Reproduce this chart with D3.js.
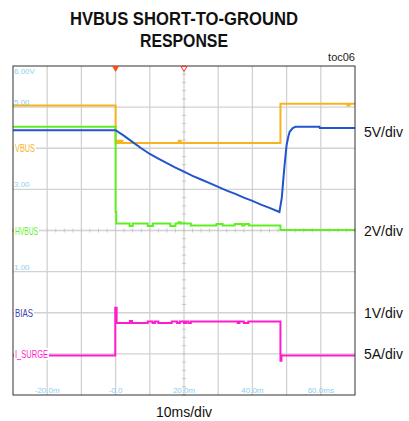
<!DOCTYPE html>
<html><head><meta charset="utf-8">
<script src="https://cdn.jsdelivr.net/npm/d3@7"></script>
<style>html,body{margin:0;padding:0;background:#fff;}svg{display:block;}</style>
</head><body>
<script>
// ---- data (time in ms, values in screen divisions from bottom) ----
const xTickValues = [-20, 0, 20, 40, 60];
const xTickLabels = ["-20.0m", "-0.0", "20.0m", "40.0m", "60.0ms"];
const yTickDivs = [8, 7, 5, 3];
const yTickLabels = ["6.00V", "5.00", "3.00", "1.00"];
const channelNames = ["VBUS", "HVBUS", "BIAS", "I_SURGE"];
const channelDivs = [6, 4, 2, 1];
const scaleLabels = ["5V/div", "2V/div", "1V/div", "5A/div"];
const scaleDivs = [6.4, 4, 2, 1];

// VBUS (orange), step data
const vbusT = [-30, 0, 0.3, 0.9, 1.4, 2.0, 2.6, 18.5, 19.0, 48.2, 67.8, 68.4, 70];
const vbusV = [7.04, 6.13, 6.18, 6.13, 6.18, 6.13, 6.13, 6.18, 6.13, 7.08, 7.04, 7.08, 7.08];
// Blue trace (VOUT), linear
const blueT = [-30, 0, 2.5, 5, 7.5, 10, 12.5, 15, 17.5, 20, 22.5, 25, 27.5, 30, 32.5, 35, 37.5, 40, 42.5, 45, 47.9, 48.6, 49.3, 50.0, 50.5, 50.9, 51.8, 52.6, 59.6, 59.7, 70];
const blueV = [6.44, 6.44, 6.30, 6.15, 6.00, 5.86, 5.75, 5.64, 5.53, 5.43, 5.33, 5.24, 5.15, 5.06, 4.97, 4.89, 4.80, 4.72, 4.63, 4.55, 4.45, 4.80, 5.50, 6.08, 6.28, 6.40, 6.49, 6.52, 6.52, 6.49, 6.49];
// HVBUS (green), step data
const hvbusT = [-30, 0, 0.2, 4.1, 5.0, 9.4, 10.9, 16.0, 17.5, 18.4, 19.0, 22.0, 29.5, 31.3, 34.8, 37.0, 37.7, 39.0, 48.2, 70];
const hvbusV = [6.52, 4.45, 4.17, 4.11, 4.17, 4.11, 4.17, 4.11, 4.17, 4.20, 4.17, 4.12, 4.16, 4.12, 4.16, 4.12, 4.16, 4.12, 4.01, 4.01];
// I_SURGE (magenta), step data
const surgeT = [-30, -0.1, 0.3, 4.2, 4.8, 9.4, 10.8, 11.5, 12.5, 16.4, 18.0, 18.8, 20.0, 20.6, 21.3, 22.0, 35.7, 36.2, 37.5, 38.8, 48.2, 48.5, 70];
const surgeV = [0.96, 2.12, 1.75, 1.80, 1.75, 1.79, 1.75, 1.79, 1.75, 1.79, 1.75, 1.79, 1.75, 1.79, 1.75, 1.79, 1.75, 1.79, 1.75, 1.79, 0.83, 0.96, 0.96];

// ---- layout ----
const W = 409, H = 421;
const L = 13, R = 355, T = 66, B = 395;
const svg = d3.select("body").append("svg").attr("width", W).attr("height", H);
const x = d3.scaleLinear().domain([-30, 70]).range([L, R]);
const y = d3.scaleLinear().domain([0, 8]).range([B, T]);
const narrow = "'Liberation Sans Narrow','Arial Narrow','Liberation Sans',Arial,sans-serif";
const sans = "'Liberation Sans',Arial,sans-serif";

// title
svg.append("text").attr("x", 184).attr("y", 25).attr("text-anchor", "middle")
  .attr("font-family", narrow).attr("font-weight", "bold").attr("font-size", 18)
  .attr("textLength", 228).attr("lengthAdjust", "spacingAndGlyphs").attr("fill", "#111")
  .text("HVBUS SHORT-TO-GROUND");
svg.append("text").attr("x", 184).attr("y", 46.5).attr("text-anchor", "middle")
  .attr("font-family", narrow).attr("font-weight", "bold").attr("font-size", 18)
  .attr("textLength", 88).attr("lengthAdjust", "spacingAndGlyphs").attr("fill", "#111")
  .text("RESPONSE");
svg.append("text").attr("x", 355).attr("y", 61).attr("text-anchor", "end")
  .attr("font-family", sans).attr("font-size", 11).attr("fill", "#222").text("toc06");

// grid
const gridColor = "#d2d2d2";
const g = svg.append("g");
d3.range(-20, 70, 10).forEach(t => {
  g.append("line").attr("x1", x(t)).attr("x2", x(t)).attr("y1", T).attr("y2", B)
    .attr("stroke", gridColor).attr("stroke-width", 1.3);
});
d3.range(1, 8).forEach(d => {
  g.append("line").attr("x1", L).attr("x2", R).attr("y1", y(d)).attr("y2", y(d))
    .attr("stroke", gridColor).attr("stroke-width", 1.3);
});
// minor ticks on center axes
d3.range(-30, 70.01, 2.5).forEach(t => {
  g.append("line").attr("x1", x(t)).attr("x2", x(t)).attr("y1", y(4) - 2).attr("y2", y(4) + 2)
    .attr("stroke", "#c8c8c8").attr("stroke-width", 1);
});
d3.range(0, 8.01, 0.2).forEach(d => {
  g.append("line").attr("x1", x(20) - 2).attr("x2", x(20) + 2).attr("y1", y(d)).attr("y2", y(d))
    .attr("stroke", "#c8c8c8").attr("stroke-width", 1);
});

// traces
const lineLin = d3.line().x(d => x(d[0])).y(d => y(d[1]));
const lineStep = d3.line().x(d => x(d[0])).y(d => y(d[1])).curve(d3.curveStepAfter);
const traces = [
  {t: vbusT, v: vbusV, c: "#f7b21e", gen: lineStep},
  {t: hvbusT, v: hvbusV, c: "#5ef01e", gen: lineStep},
  {t: blueT, v: blueV, c: "#2255cc", gen: lineLin},
  {t: surgeT, v: surgeV, c: "#ff1ccc", gen: lineStep}
];
traces.forEach(s => {
  svg.append("path").datum(d3.zip(s.t, s.v)).attr("d", s.gen)
    .attr("fill", "none").attr("stroke", s.c).attr("stroke-width", 2)
    .attr("stroke-linejoin", "miter");
});

// border
svg.append("rect").attr("x", L).attr("y", T).attr("width", R - L).attr("height", B - T)
  .attr("fill", "none").attr("stroke", "#333").attr("stroke-width", 1);

// trigger markers
svg.append("path").attr("d", `M${x(0) - 3.5},${T} L${x(0) + 3.5},${T} L${x(0)},${T + 6} Z`)
  .attr("fill", "#ff4a10");
svg.append("path").attr("d", `M${x(20) - 3},${T + 0.5} L${x(20) + 3},${T + 0.5} L${x(20)},${T + 5.5} Z`)
  .attr("fill", "#fff").attr("stroke", "#ff3030").attr("stroke-width", 1);

// y value labels (light blue)
const tickBlue = "#8ccff0";
yTickDivs.forEach((d, i) => {
  const yy = d === 8 ? T + 7.5 : y(d) - 2;
  svg.append("text").attr("x", 14).attr("y", yy)
    .attr("font-family", narrow).attr("font-size", 8).attr("fill", tickBlue)
    .text(yTickLabels[i]);
});
// x labels
xTickValues.forEach((t, i) => {
  svg.append("text").attr("x", x(t)).attr("y", 393).attr("text-anchor", "middle")
    .attr("font-family", narrow).attr("font-size", 8).attr("fill", tickBlue)
    .text(xTickLabels[i]);
});

// channel labels with white background
const chColors = ["#f7b21e", "#5ef01e", "#3a3fb0", "#ff1ccc"];
const chWidths = [20, 23, 18, 33];
channelNames.forEach((n, i) => {
  const yy = y(channelDivs[i]);
  svg.append("rect").attr("x", L + 1).attr("y", yy - 6).attr("width", chWidths[i] + 2).attr("height", 12)
    .attr("fill", "#fff");
  svg.append("text").attr("x", 15).attr("y", yy + 4)
    .attr("font-family", narrow).attr("font-size", 11).attr("fill", chColors[i])
    .attr("textLength", chWidths[i]).attr("lengthAdjust", "spacingAndGlyphs")
    .text(n);
});

// right scale labels
scaleLabels.forEach((s, i) => {
  svg.append("text").attr("x", 364).attr("y", y(scaleDivs[i]) + 5)
    .attr("font-family", sans).attr("font-size", 14).attr("fill", "#111").text(s);
});

// bottom label
svg.append("text").attr("x", 184).attr("y", 417).attr("text-anchor", "middle")
  .attr("font-family", sans).attr("font-size", 14).attr("fill", "#111").text("10ms/div");
</script>
</body></html>
